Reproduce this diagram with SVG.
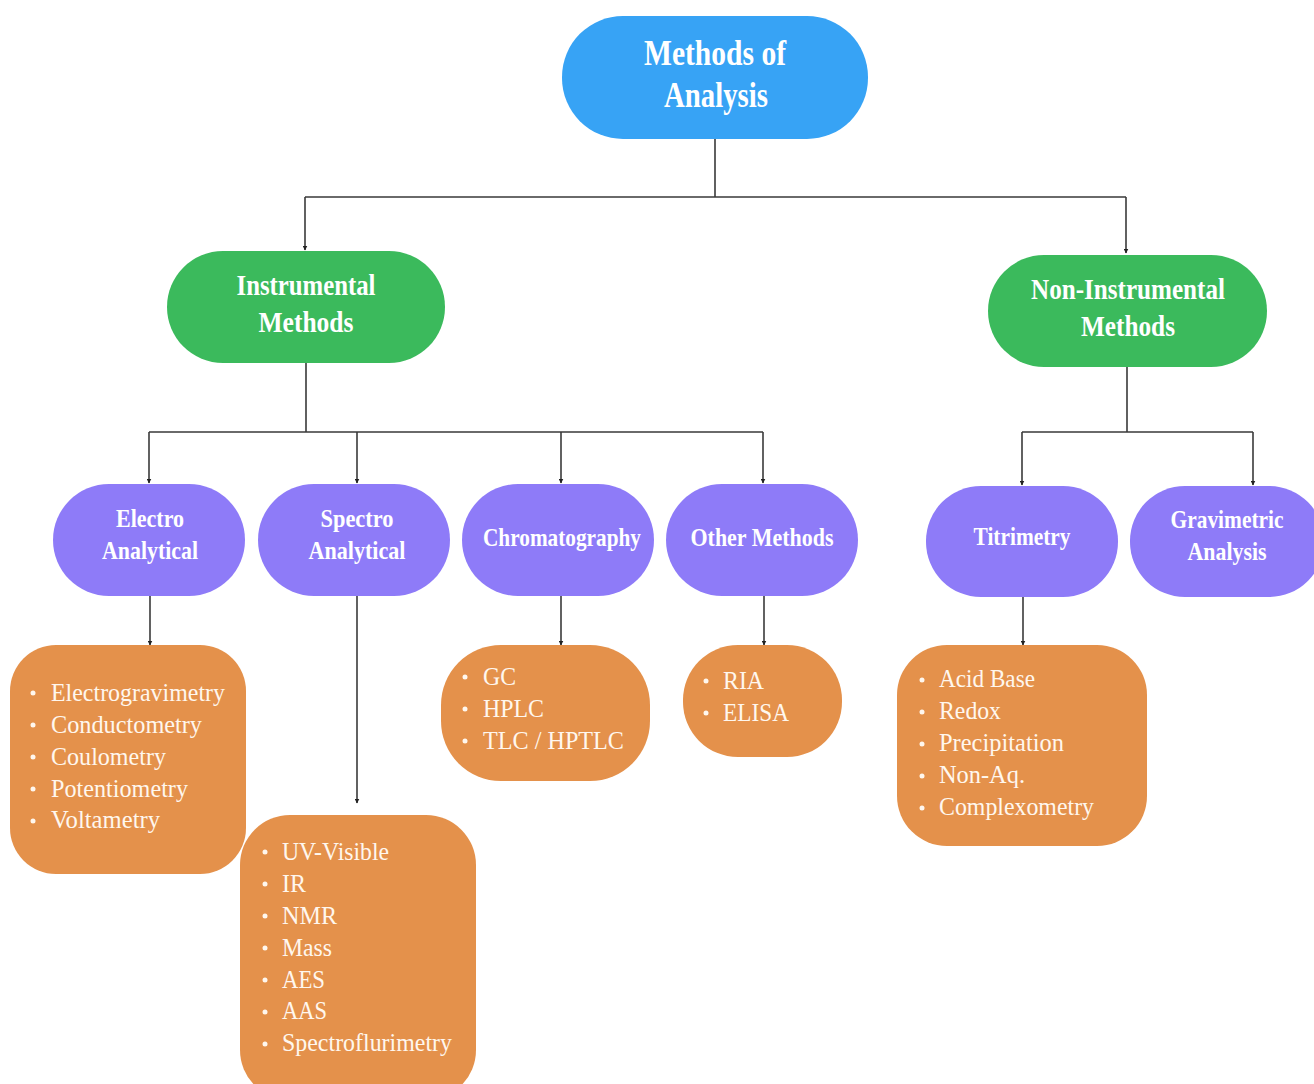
<svg xmlns="http://www.w3.org/2000/svg" width="1314" height="1084" viewBox="0 0 1314 1084">
<defs>
<style>
.blue{fill:#37A3F5}
.green{fill:#3BBA5C}
.purple{fill:#8E7BF8}
.orange{fill:#E4914B}
.h{font-family:"Liberation Serif","Times New Roman",serif;font-weight:bold;fill:#FFFFFF;text-anchor:middle}
.h1{font-size:35px}
.h2{font-size:29px}
.h3{font-size:25px}
.li{font-family:"Liberation Serif","Times New Roman",serif;font-size:25px;fill:#FFF7EE}
.b{fill:#FFF7EE}
.c{fill:none;stroke:#3a3a3a;stroke-width:1.6}
</style>
<marker id="ah" viewBox="0 0 10 10" refX="9" refY="5" markerWidth="5" markerHeight="5" orient="auto" markerUnits="userSpaceOnUse">
<path d="M0,0 L10,5 L0,10 z" fill="#222"/>
</marker>
</defs>
<rect width="1314" height="1084" fill="#FFFFFF"/>

<g id="connectors">
<path class="c" d="M715,139 V197 M305,197 H1126"/>
<path class="c" d="M305,197 V250" marker-end="url(#ah)"/>
<path class="c" d="M1126,197 V253" marker-end="url(#ah)"/>
<path class="c" d="M306,363 V432 M149,432 H763"/>
<path class="c" d="M149,432 V483" marker-end="url(#ah)"/>
<path class="c" d="M357,432 V483" marker-end="url(#ah)"/>
<path class="c" d="M561,432 V483" marker-end="url(#ah)"/>
<path class="c" d="M763,432 V483" marker-end="url(#ah)"/>
<path class="c" d="M1127,367 V432 M1022,432 H1253"/>
<path class="c" d="M1022,432 V485" marker-end="url(#ah)"/>
<path class="c" d="M1253,432 V485" marker-end="url(#ah)"/>
<path class="c" d="M150,596 V645" marker-end="url(#ah)"/>
<path class="c" d="M357,596 V803" marker-end="url(#ah)"/>
<path class="c" d="M561,596 V645" marker-end="url(#ah)"/>
<path class="c" d="M764,596 V645" marker-end="url(#ah)"/>
<path class="c" d="M1023,597 V645" marker-end="url(#ah)"/>
</g>

<g id="root">
<rect class="blue" x="562" y="16" width="306" height="123" rx="61"/>
<text class="h h1" x="715" y="65" textLength="142" lengthAdjust="spacingAndGlyphs">Methods of</text>
<text class="h h1" x="716" y="107" textLength="104" lengthAdjust="spacingAndGlyphs">Analysis</text>
</g>

<g id="instrumental">
<rect class="green" x="167" y="251" width="278" height="112" rx="56"/>
<text class="h h2" x="306" y="295" textLength="139" lengthAdjust="spacingAndGlyphs">Instrumental</text>
<text class="h h2" x="306" y="332" textLength="95" lengthAdjust="spacingAndGlyphs">Methods</text>
</g>

<g id="non-instrumental">
<rect class="green" x="988" y="255" width="279" height="112" rx="56"/>
<text class="h h2" x="1128" y="299" textLength="194" lengthAdjust="spacingAndGlyphs">Non-Instrumental</text>
<text class="h h2" x="1128" y="336" textLength="94" lengthAdjust="spacingAndGlyphs">Methods</text>
</g>

<g id="electro">
<rect class="purple" x="53" y="484" width="192" height="112" rx="56"/>
<text class="h h3" x="150" y="527" textLength="68" lengthAdjust="spacingAndGlyphs">Electro</text>
<text class="h h3" x="150" y="559" textLength="96" lengthAdjust="spacingAndGlyphs">Analytical</text>
</g>

<g id="spectro">
<rect class="purple" x="258" y="484" width="192" height="112" rx="56"/>
<text class="h h3" x="357" y="527" textLength="73" lengthAdjust="spacingAndGlyphs">Spectro</text>
<text class="h h3" x="357" y="559" textLength="97" lengthAdjust="spacingAndGlyphs">Analytical</text>
</g>

<g id="chromatography">
<rect class="purple" x="462" y="484" width="192" height="112" rx="56"/>
<text class="h h3" x="562" y="546" textLength="158" lengthAdjust="spacingAndGlyphs">Chromatography</text>
</g>

<g id="other">
<rect class="purple" x="666" y="484" width="192" height="112" rx="56"/>
<text class="h h3" x="762" y="546" textLength="143" lengthAdjust="spacingAndGlyphs">Other Methods</text>
</g>

<g id="titrimetry">
<rect class="purple" x="926" y="486" width="192" height="111" rx="55"/>
<text class="h h3" x="1022" y="545" textLength="97" lengthAdjust="spacingAndGlyphs">Titrimetry</text>
</g>

<g id="gravimetric">
<rect class="purple" x="1130" y="486" width="194" height="111" rx="55"/>
<text class="h h3" x="1227" y="528" textLength="113" lengthAdjust="spacingAndGlyphs">Gravimetric</text>
<text class="h h3" x="1227" y="560" textLength="79" lengthAdjust="spacingAndGlyphs">Analysis</text>
</g>

<g id="electro-list">
<rect class="orange" x="10" y="645" width="236" height="229" rx="46"/>
<circle class="b" cx="33" cy="693" r="2.5"/><text class="li" x="51" y="701" textLength="174" lengthAdjust="spacingAndGlyphs">Electrogravimetry</text>
<circle class="b" cx="33" cy="725" r="2.5"/><text class="li" x="51" y="733" textLength="151" lengthAdjust="spacingAndGlyphs">Conductometry</text>
<circle class="b" cx="33" cy="757" r="2.5"/><text class="li" x="51" y="765" textLength="115" lengthAdjust="spacingAndGlyphs">Coulometry</text>
<circle class="b" cx="33" cy="789" r="2.5"/><text class="li" x="51" y="797" textLength="137" lengthAdjust="spacingAndGlyphs">Potentiometry</text>
<circle class="b" cx="33" cy="821" r="2.5"/><text class="li" x="51" y="828" textLength="109" lengthAdjust="spacingAndGlyphs">Voltametry</text>
</g>

<g id="spectro-list">
<rect class="orange" x="240" y="815" width="236" height="285" rx="50"/>
<circle class="b" cx="265" cy="852" r="2.5"/><text class="li" x="282" y="860" textLength="107" lengthAdjust="spacingAndGlyphs">UV-Visible</text>
<circle class="b" cx="265" cy="884" r="2.5"/><text class="li" x="282" y="892" textLength="24" lengthAdjust="spacingAndGlyphs">IR</text>
<circle class="b" cx="265" cy="916" r="2.5"/><text class="li" x="282" y="924" textLength="55" lengthAdjust="spacingAndGlyphs">NMR</text>
<circle class="b" cx="265" cy="948" r="2.5"/><text class="li" x="282" y="956" textLength="50" lengthAdjust="spacingAndGlyphs">Mass</text>
<circle class="b" cx="265" cy="980" r="2.5"/><text class="li" x="282" y="988" textLength="43" lengthAdjust="spacingAndGlyphs">AES</text>
<circle class="b" cx="265" cy="1012" r="2.5"/><text class="li" x="282" y="1019" textLength="45" lengthAdjust="spacingAndGlyphs">AAS</text>
<circle class="b" cx="265" cy="1044" r="2.5"/><text class="li" x="282" y="1051" textLength="170" lengthAdjust="spacingAndGlyphs">Spectroflurimetry</text>
</g>

<g id="chromatography-list">
<rect class="orange" x="441" y="645" width="209" height="136" rx="60"/>
<circle class="b" cx="465" cy="677" r="2.5"/><text class="li" x="483" y="685" textLength="33" lengthAdjust="spacingAndGlyphs">GC</text>
<circle class="b" cx="465" cy="709" r="2.5"/><text class="li" x="483" y="717" textLength="61" lengthAdjust="spacingAndGlyphs">HPLC</text>
<circle class="b" cx="465" cy="741" r="2.5"/><text class="li" x="483" y="749" textLength="141" lengthAdjust="spacingAndGlyphs">TLC / HPTLC</text>
</g>

<g id="other-list">
<rect class="orange" x="683" y="645" width="159" height="112" rx="55"/>
<circle class="b" cx="706" cy="681" r="2.5"/><text class="li" x="723" y="689" textLength="41" lengthAdjust="spacingAndGlyphs">RIA</text>
<circle class="b" cx="706" cy="713" r="2.5"/><text class="li" x="723" y="721" textLength="66" lengthAdjust="spacingAndGlyphs">ELISA</text>
</g>

<g id="titrimetry-list">
<rect class="orange" x="897" y="645" width="250" height="201" rx="50"/>
<circle class="b" cx="922" cy="680" r="2.5"/><text class="li" x="939" y="687" textLength="96" lengthAdjust="spacingAndGlyphs">Acid Base</text>
<circle class="b" cx="922" cy="712" r="2.5"/><text class="li" x="939" y="719" textLength="62" lengthAdjust="spacingAndGlyphs">Redox</text>
<circle class="b" cx="922" cy="744" r="2.5"/><text class="li" x="939" y="751" textLength="125" lengthAdjust="spacingAndGlyphs">Precipitation</text>
<circle class="b" cx="922" cy="776" r="2.5"/><text class="li" x="939" y="783" textLength="86" lengthAdjust="spacingAndGlyphs">Non-Aq.</text>
<circle class="b" cx="922" cy="808" r="2.5"/><text class="li" x="939" y="815" textLength="155" lengthAdjust="spacingAndGlyphs">Complexometry</text>
</g>
</svg>
